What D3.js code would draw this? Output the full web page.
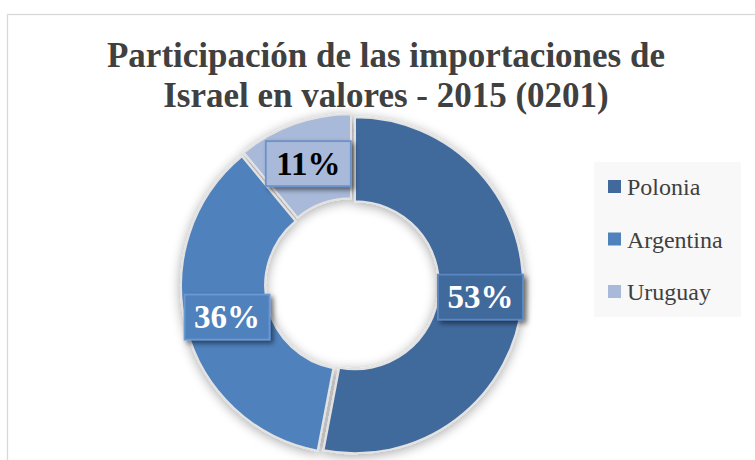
<!DOCTYPE html>
<html><head><meta charset="utf-8">
<script src="https://cdn.jsdelivr.net/npm/d3@7"></script>
<style>
html,body{margin:0;padding:0;background:#fff;}
svg{display:block;}
</style></head>
<body>
<svg id="chart" width="755" height="460"></svg>
<script>
const titleLines = ["Participación de las importaciones de", "Israel en valores - 2015 (0201)"];
const categories = ["Polonia", "Argentina", "Uruguay"];
const values = [53, 36, 11];
const labels = ["53%", "36%", "11%"];
const colors = ["#41699c", "#4f81bd", "#a8b9d9"];
const labelText = ["#ffffff", "#ffffff", "#000000"];
const labelBorder = ["#5a88c4", "#6b98d2", "#6c93c8"];

const svg = d3.select("#chart");
const defs = svg.append("defs");
const f = defs.append("filter").attr("id","sh").attr("x","-30%").attr("y","-30%").attr("width","160%").attr("height","160%");
f.append("feGaussianBlur").attr("in","SourceAlpha").attr("stdDeviation",6).attr("result","b");
f.append("feOffset").attr("in","b").attr("dx",0).attr("dy",2).attr("result","o");
f.append("feComponentTransfer").attr("in","o").attr("result","c").append("feFuncA").attr("type","linear").attr("slope",0.35);
const fm = f.append("feMerge"); fm.append("feMergeNode").attr("in","c"); fm.append("feMergeNode").attr("in","SourceGraphic");

const f2 = defs.append("filter").attr("id","sh2").attr("x","-30%").attr("y","-30%").attr("width","160%").attr("height","160%");
f2.append("feGaussianBlur").attr("in","SourceAlpha").attr("stdDeviation",2.5).attr("result","b");
f2.append("feOffset").attr("in","b").attr("dx",3).attr("dy",3).attr("result","o");
f2.append("feComponentTransfer").attr("in","o").attr("result","c").append("feFuncA").attr("type","linear").attr("slope",0.5);
const fm2 = f2.append("feMerge"); fm2.append("feMergeNode").attr("in","c"); fm2.append("feMergeNode").attr("in","SourceGraphic");

// frame
svg.append("rect").attr("x",7.5).attr("y",14.5).attr("width",760).attr("height",460)
  .attr("fill","#fff").attr("stroke","#d9d9d9").attr("stroke-width",1.3);

// title
svg.append("text").attr("text-anchor","middle")
  .attr("font-family","'Liberation Serif', serif").attr("font-weight","bold")
  .attr("font-size",35).attr("fill","#404040")
  .selectAll("tspan").data(titleLines).join("tspan")
  .attr("x",386).attr("y",(d,i)=>67+i*40).text(d=>d);

const cx = 352, cy = 285, R = 168, r = 84, ex = 3;
const pie = d3.pie().sort(null).value(d=>d);
const arcs = pie(values);
const arc = d3.arc().innerRadius(r).outerRadius(R);
const off = d => { const a = (d.startAngle+d.endAngle)/2; return [Math.sin(a)*ex, -Math.cos(a)*ex]; };

const g = svg.append("g").attr("transform",`translate(${cx},${cy})`);
g.append("g").attr("filter","url(#sh)").selectAll("path").data(arcs).join("path")
  .attr("d",arc).attr("fill",(d,i)=>colors[i])
  .attr("stroke","#e2e2e2").attr("stroke-width",2)
  .attr("transform",d=>`translate(${off(d)})`);

const bw = 85, bh = 45;
const lab = g.append("g").selectAll("g").data(arcs).join("g")
  .attr("transform",d=>{const c = arc.centroid(d), o = off(d); return `translate(${c[0]+o[0]},${c[1]+o[1]})`;});
lab.append("rect").attr("x",-bw/2).attr("y",-bh/2).attr("width",bw).attr("height",bh)
  .attr("fill",(d,i)=>colors[i]).attr("stroke",(d,i)=>labelBorder[i]).attr("stroke-width",1.8)
  .attr("filter","url(#sh2)");
lab.append("text").attr("text-anchor","middle").attr("y",11)
  .attr("font-family","'Liberation Serif', serif").attr("font-weight","bold")
  .attr("font-size",33).attr("fill",(d,i)=>labelText[i]).text((d,i)=>labels[i]);

// legend
const lg = svg.append("g");
lg.append("rect").attr("x",594).attr("y",162).attr("width",147).attr("height",155).attr("fill","#f8f8f8");
const li = lg.selectAll("g.it").data(categories).join("g").attr("class","it")
  .attr("transform",(d,i)=>`translate(608,${180+i*52.5})`);
li.append("rect").attr("width",13).attr("height",13).attr("fill",(d,i)=>colors[i]);
li.append("text").attr("x",19).attr("y",15).attr("font-family","'Liberation Serif', serif")
  .attr("font-size",24).attr("fill","#404040").text(d=>d);
</script>
</body></html>
